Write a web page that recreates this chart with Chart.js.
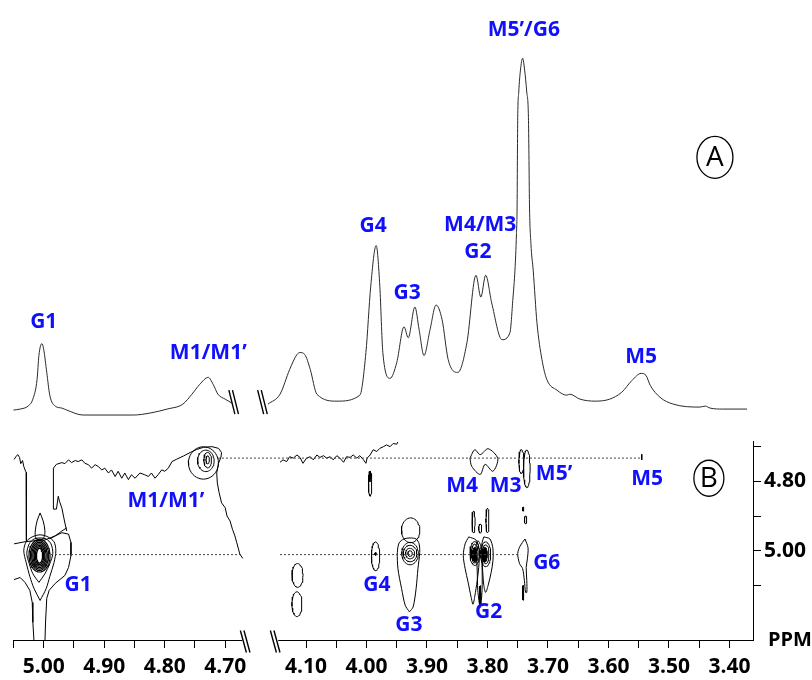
<!DOCTYPE html>
<html>
<head>
<meta charset="utf-8">
<title>1H NMR / TOCSY</title>
<script src="https://cdn.jsdelivr.net/npm/chart.js@4.4.1/dist/chart.umd.min.js"></script>
<style>
  html, body { margin: 0; padding: 0; background: #fff; }
  canvas { display: block; }
</style>
</head>
<body>
<canvas id="nmr" width="812" height="680"></canvas>
<script>
// ---- data: [ppm, intensity] for the 1D trace (A), [ppm F2, ppm F1] for the 2D map (B)

const spectrumLeft = [
  [5.050, 0], [5.039, 1], [5.026, 4], [5.018, 11], [5.011, 31], [5.008, 55], [5.003, 67],
  [5.000, 61], [4.995, 38], [4.990, 15], [4.981, 4], [4.970, 2], [4.962, 0], [4.935, -5],
  [4.907, -5], [4.852, -5], [4.824, -3], [4.796, 1], [4.770, 6], [4.755, 16], [4.742, 26],
  [4.728, 33], [4.720, 26], [4.712, 16], [4.700, 11], [4.689, 7],
];

const spectrumRight = [
  [4.163, 6], [4.143, 16], [4.127, 41], [4.115, 56], [4.110, 58], [4.102, 56], [4.093, 41],
  [4.082, 16], [4.049, 9], [4.011, 15], [4.001, 58], [3.993, 125], [3.984, 166], [3.978, 125],
  [3.973, 58], [3.961, 32], [3.950, 48], [3.938, 84], [3.931, 73], [3.920, 104], [3.913, 81],
  [3.905, 55], [3.895, 81], [3.885, 106], [3.875, 91], [3.865, 51], [3.849, 38], [3.834, 68],
  [3.819, 136], [3.811, 114], [3.803, 136], [3.793, 108], [3.776, 71], [3.7629, 78],
  [3.7579, 113], [3.7546, 141], [3.7521, 178], [3.7510, 208], [3.7505, 258], [3.7500, 295],
  [3.7483, 321], [3.7455, 343], [3.7419, 355], [3.7386, 343], [3.7351, 321], [3.7323, 295],
  [3.7315, 258], [3.7306, 208], [3.7282, 168], [3.7244, 141], [3.7182, 88], [3.710, 51],
  [3.702, 31], [3.685, 20], [3.669, 15], [3.664, 16], [3.647, 11], [3.622, 9], [3.598, 11],
  [3.578, 18], [3.561, 30], [3.546, 37], [3.538, 35], [3.531, 25], [3.515, 13], [3.493, 6],
  [3.449, 3], [3.440, 4], [3.432, 2], [3.411, 1], [3.371, 1],
];

const xTickValues = [5.05, 5.00, 4.95, 4.90, 4.85, 4.80, 4.75, 4.70,
  4.10, 4.05, 4.00, 3.95, 3.90, 3.85, 3.80, 3.75, 3.70, 3.65, 3.60, 3.55, 3.50, 3.45, 3.40];
const xTickLabels = ['', '5.00', '', '4.90', '', '4.80', '', '4.70',
  '4.10', '', '4.00', '', '3.90', '', '3.80', '', '3.70', '', '3.60', '', '3.50', '', '3.40'];
const yTickValues = [4.70, 4.80, 4.90, 5.00, 5.10];
const yTickLabels = ['', '4.80', '', '5.00', ''];

// contour levels as ellipses: [centre F2, centre F1, half width F2, half height F1]
const g1Rings = [
  [5.007, 5.014, 0.0050, 0.0214], [5.007, 5.014, 0.0069, 0.0257], [5.007, 5.014, 0.0089, 0.0300],
  [5.007, 5.014, 0.0109, 0.0343], [5.007, 5.014, 0.0129, 0.0386], [5.007, 5.014, 0.0149, 0.0429],
  [5.007, 5.014, 0.0174, 0.0471],
];
const m1Rings = [
  [4.729, 4.738, 0.0028, 0.0114], [4.729, 4.739, 0.0063, 0.0223],
  [4.732, 4.741, 0.0137, 0.0309], [4.736, 4.747, 0.0248, 0.0466],
];
const g3Rings = [
  [3.928, 5.008, 0.0137, 0.0323], [3.928, 5.008, 0.0111, 0.0237],
  [3.928, 5.008, 0.0074, 0.0151], [3.928, 5.008, 0.0036, 0.0080],
];
const g2Rings = [
  [3.821, 5.008, 0.0078, 0.0343], [3.821, 5.008, 0.0055, 0.0271],
  [3.803, 5.010, 0.0083, 0.0357], [3.803, 5.010, 0.0055, 0.0271],
];
const otherPeaks = [
  [3.985, 5.016, 0.0069, 0.0414], [3.994, 4.807, 0.0028, 0.0357], [3.927, 4.941, 0.0152, 0.0357],
  [3.823, 4.917, 0.0025, 0.0314], [3.812, 4.936, 0.0025, 0.0129], [3.800, 4.913, 0.0025, 0.0357],
  [3.744, 4.743, 0.0041, 0.0343], [3.735, 4.764, 0.0055, 0.0543], [3.737, 4.911, 0.0020, 0.0114],
  [4.114, 5.071, 0.0091, 0.0343], [4.115, 5.154, 0.0083, 0.0357],
];
const filledPeaks = [
  [3.985, 5.009, 0.0013, 0.0043], [3.994, 4.786, 0.0017, 0.0143],
  [3.821, 5.011, 0.0038, 0.0206], [3.804, 5.011, 0.0038, 0.0206],
  [3.812, 5.129, 0.0013, 0.0286], [3.741, 4.880, 0.0013, 0.0057], [3.741, 5.121, 0.0012, 0.0214],
];

// irregular contours, [F2, F1]
const g1Outer1 = [[5.008, 5.091], [5.018, 5.066], [5.024, 5.037], [5.028, 5.008], [5.024, 4.980],
  [5.016, 4.966], [5.006, 4.963], [4.996, 4.966], [4.988, 4.980], [4.985, 5.008], [4.990, 5.037],
  [4.998, 5.066], [5.008, 5.091]];
const g1Outer2 = [[5.006, 5.143], [5.016, 5.109], [5.023, 5.074], [5.029, 5.034], [5.033, 5.000],
  [5.029, 4.974], [5.019, 4.960], [5.006, 4.954], [4.993, 4.960], [4.983, 4.974], [4.980, 5.000],
  [4.983, 5.034], [4.990, 5.074], [4.996, 5.109], [5.006, 5.143]];
const g1Upper = [[5.006, 4.891], [5.011, 4.914], [5.014, 4.943], [5.013, 4.963], [5.006, 4.969],
  [5.000, 4.963], [4.998, 4.943], [5.001, 4.914], [5.006, 4.891]];
const g1Cross = [[5.049, 4.980], [5.031, 4.974], [5.014, 4.971], [4.998, 4.969], [4.981, 4.957],
  [4.970, 4.943], [4.962, 4.934]];
const g1RightArm = [[4.990, 4.966], [4.981, 4.957], [4.970, 4.948], [4.959, 4.952], [4.955, 4.976],
  [4.955, 5.014], [4.959, 5.048], [4.965, 5.071], [4.981, 5.094], [4.991, 5.114], [4.995, 5.137],
  [4.997, 5.205], [4.998, 5.262]];
const g1LeftArm = [[5.049, 5.083], [5.039, 5.077], [5.031, 5.091], [5.023, 5.114], [5.019, 5.149],
  [5.018, 5.206], [5.016, 5.263]];
const g3Outer = [[3.929, 5.176], [3.936, 5.157], [3.942, 5.109], [3.948, 5.052], [3.949, 5.005],
  [3.946, 4.977], [3.938, 4.966], [3.928, 4.963], [3.918, 4.966], [3.913, 4.980], [3.912, 5.005],
  [3.915, 5.052], [3.918, 5.109], [3.923, 5.162], [3.929, 5.176]];
const g2Left = [[3.831, 4.960], [3.837, 4.980], [3.840, 5.014], [3.837, 5.051], [3.832, 5.091],
  [3.827, 5.134], [3.824, 5.154], [3.821, 5.131], [3.817, 5.086], [3.814, 5.037], [3.814, 4.994],
  [3.819, 4.969], [3.831, 4.960]];
const g2Mid = [[3.819, 4.986], [3.817, 5.057], [3.816, 5.114], [3.812, 5.163], [3.809, 5.114],
  [3.809, 5.043], [3.811, 4.986], [3.816, 4.971], [3.819, 4.986]];
const g2Right = [[3.806, 4.960], [3.796, 4.966], [3.791, 4.994], [3.791, 5.029], [3.794, 5.063],
  [3.799, 5.100], [3.803, 5.120], [3.806, 5.100], [3.808, 5.057], [3.809, 5.014], [3.809, 4.977],
  [3.806, 4.960]];
const m4m3 = [[3.829, 4.733], [3.821, 4.709], [3.812, 4.723], [3.799, 4.706], [3.783, 4.734],
  [3.791, 4.771], [3.804, 4.751], [3.812, 4.780], [3.826, 4.757], [3.829, 4.733]];
const g6 = [[3.738, 4.966], [3.733, 4.991], [3.734, 5.023], [3.736, 5.048], [3.735, 5.086],
  [3.735, 5.120], [3.737, 5.120], [3.739, 5.086], [3.742, 5.051], [3.747, 5.037], [3.750, 5.008],
  [3.746, 4.986], [3.738, 4.966]];

// noisy projection traces across the top of the map
const traceLeft1 = [[5.049, 4.737], [5.046, 4.729], [5.043, 4.723], [5.040, 4.731], [5.038, 4.749],
  [5.035, 4.740], [5.033, 4.757], [5.030, 4.771], [5.029, 4.774], [5.029, 4.857], [5.029, 4.929],
  [5.028, 4.971]];
const traceLeft2 = [[4.962, 4.943], [4.965, 4.920], [4.970, 4.877], [4.974, 4.857], [4.976, 4.843],
  [4.979, 4.880], [4.984, 4.880], [4.984, 4.829], [4.984, 4.762], [4.979, 4.751], [4.970, 4.746],
  [4.965, 4.749], [4.959, 4.738], [4.954, 4.746], [4.948, 4.740], [4.943, 4.743], [4.937, 4.738],
  [4.932, 4.748], [4.926, 4.752], [4.921, 4.762], [4.915, 4.752], [4.910, 4.757], [4.904, 4.767],
  [4.899, 4.762], [4.893, 4.776], [4.888, 4.767], [4.882, 4.786], [4.877, 4.771], [4.871, 4.791],
  [4.866, 4.776], [4.860, 4.795], [4.855, 4.781], [4.849, 4.791], [4.841, 4.776], [4.833, 4.781],
  [4.827, 4.786], [4.822, 4.776], [4.816, 4.791], [4.811, 4.781], [4.805, 4.767], [4.800, 4.771],
  [4.794, 4.762], [4.788, 4.743], [4.780, 4.736], [4.769, 4.727], [4.758, 4.717], [4.747, 4.708],
  [4.736, 4.702], [4.722, 4.700], [4.711, 4.705], [4.706, 4.717], [4.707, 4.730], [4.711, 4.748],
  [4.714, 4.776], [4.713, 4.805], [4.710, 4.833], [4.706, 4.862], [4.700, 4.876], [4.697, 4.900],
  [4.692, 4.914], [4.688, 4.938], [4.684, 4.957], [4.681, 4.976], [4.678, 4.995], [4.676, 5.009],
  [4.671, 5.022]];
const traceRight = [[4.143, 4.745], [4.138, 4.738], [4.132, 4.743], [4.127, 4.729], [4.121, 4.733],
  [4.115, 4.724], [4.110, 4.731], [4.105, 4.748], [4.099, 4.733], [4.093, 4.729], [4.088, 4.738],
  [4.082, 4.724], [4.077, 4.731], [4.071, 4.726], [4.066, 4.733], [4.060, 4.729], [4.055, 4.738],
  [4.049, 4.726], [4.044, 4.733], [4.038, 4.745], [4.033, 4.729], [4.027, 4.731], [4.022, 4.724],
  [4.016, 4.733], [4.011, 4.726], [4.005, 4.738], [4.001, 4.748], [3.999, 4.733], [3.994, 4.724],
  [3.989, 4.709], [3.983, 4.714], [3.978, 4.705], [3.972, 4.700], [3.967, 4.695], [3.961, 4.700],
  [3.956, 4.691], [3.950, 4.693], [3.948, 4.686]];

// cross-peak guides (F1 of M1 and G1)
const crossLines = [
  [[4.712, 4.733], [3.545, 4.733]],
  [[4.988, 5.011], [4.672, 5.011]],
  [[4.143, 5.011], [3.746, 5.011]],
];
const m5Tick = [[3.545, 4.722], [3.545, 4.738]];

const spectrumLabels = [
  ['G1', 5.000, 89], ['M1/M1’', 4.728, 58], ['G4', 3.989, 186], ['G3', 3.933, 118],
  ['M4/M3', 3.812, 187], ['G2', 3.816, 159], ['M5’/G6', 3.740, 383], ['M5', 3.546, 54],
];
const mapLabels = [
  ['M1/M1’', 4.798, 4.857], ['G1', 4.943, 5.100], ['G4', 3.983, 5.100], ['G3', 3.930, 5.214],
  ['G2', 3.798, 5.177], ['M4', 3.842, 4.814], ['M3', 3.770, 4.814], ['M5’', 3.690, 4.780],
  ['M5', 3.536, 4.794], ['G6', 3.702, 5.034],
];

// broken ppm axis: 5.05-4.67 | 4.15-3.36
const axisSegments = [[5.05, 4.672], [4.146, 3.36]];
const axisBreaks = [4.667, 4.151];
const spectrumBreaks = [4.686, 4.172];

// ---- mapping of the broken axis onto one linear scale
const PX_PER_PPM = 604.9;
const LEFT_ZERO = 5.0475;
const RIGHT_ZERO = 4.5811;
const SPLIT = 4.4;

function xv(ppm) {
  return ((ppm > SPLIT ? LEFT_ZERO : RIGHT_ZERO) - ppm) * PX_PER_PPM;
}

const toPoints = (rows) => rows.map(([ppm, y]) => ({ x: xv(ppm), y }));

function ellipsePoints([cx, cy, rx, ry]) {
  const pts = [];
  for (let i = 0; i <= 40; i++) {
    const a = (i / 40) * Math.PI * 2;
    pts.push({ x: xv(cx + rx * Math.cos(a)), y: cy + ry * Math.sin(a) });
  }
  return pts;
}

const BLUE = '#1010ff';

const spectrum = (rows) => ({
  data: toPoints(rows), yAxisID: 'yA', showLine: true, borderColor: '#2a2a2a',
  borderWidth: 1, pointRadius: 0, cubicInterpolationMode: 'monotone',
});
const contour = (points, extra) => Object.assign({
  data: points, yAxisID: 'yB', showLine: true, borderColor: '#000',
  borderWidth: 1, pointRadius: 0, tension: 0,
}, extra);

const datasets = [spectrum(spectrumLeft), spectrum(spectrumRight)];

crossLines.forEach((l) => datasets.push(contour(toPoints(l), { borderColor: '#444', borderDash: [2, 2] })));
datasets.push(contour(toPoints(m5Tick)));

[traceLeft1, traceLeft2, traceRight, g1Cross, g1RightArm, g1LeftArm]
  .forEach((t) => datasets.push(contour(toPoints(t))));
[g1Outer1, g1Outer2, g1Upper, g3Outer, g2Left, g2Mid, g2Right, m4m3, g6]
  .forEach((p) => datasets.push(contour(toPoints(p), { tension: 0.3 })));
g1Rings.forEach((e) => datasets.push(contour(ellipsePoints(e), { borderWidth: 1.2 })));
[...m1Rings, ...g3Rings, ...g2Rings, ...otherPeaks]
  .forEach((e) => datasets.push(contour(ellipsePoints(e))));
filledPeaks.forEach((e) => datasets.push(contour(ellipsePoints(e), { fill: 'shape', backgroundColor: '#000' })));

// ---- labels, panel marks, broken axis line
const decorations = {
  id: 'decorations',
  afterDraw(chart) {
    const { ctx, chartArea } = chart;
    const { x, yA, yB } = chart.scales;
    const px = (ppm) => x.getPixelForValue(xv(ppm));
    ctx.save();

    ctx.strokeStyle = '#000';
    ctx.lineWidth = 1;
    const axisY = Math.round(chartArea.bottom) + 0.5;
    ctx.beginPath();
    ctx.moveTo(px(axisSegments[0][0]), axisY);
    ctx.lineTo(px(axisSegments[0][1]), axisY);
    ctx.moveTo(px(axisSegments[1][0]), axisY);
    ctx.lineTo(chartArea.right, axisY);
    ctx.stroke();

    const breakMark = (cx, cy, h) => {
      for (const d of [-1.8, 1.8]) {
        ctx.moveTo(cx + d - 3, cy - h / 2);
        ctx.lineTo(cx + d + 3, cy + h / 2);
      }
    };
    ctx.lineWidth = 1.4;
    ctx.beginPath();
    axisBreaks.forEach((p) => breakMark(px(p), axisY + 1, 22));
    spectrumBreaks.forEach((p) => breakMark(px(p), yA.getPixelForValue(8), 24));
    ctx.stroke();

    ctx.fillStyle = BLUE;
    ctx.font = 'bold 21px "Open Sans", sans-serif';
    ctx.textAlign = 'center';
    ctx.textBaseline = 'middle';
    spectrumLabels.forEach(([t, p, v]) => ctx.fillText(t, px(p), yA.getPixelForValue(v)));
    mapLabels.forEach(([t, p, v]) => ctx.fillText(t, px(p), yB.getPixelForValue(v)));

    const mark = (letter, cx, cy, rx, ry) => {
      ctx.beginPath();
      ctx.ellipse(cx, cy, rx, ry, 0, 0, Math.PI * 2);
      ctx.lineWidth = 1.3;
      ctx.stroke();
      ctx.fillStyle = '#000';
      ctx.font = '28px "Open Sans", sans-serif';
      ctx.fillText(letter, cx, cy + 1);
    };
    mark('A', px(3.424), yA.getPixelForValue(255), 18, 21);
    mark('B', px(3.434), yB.getPixelForValue(4.791), 15, 18);

    ctx.fillStyle = '#000';
    ctx.font = 'bold 20px "Open Sans", sans-serif';
    ctx.textAlign = 'left';
    ctx.fillText('PPM', chartArea.right + 15, axisY);
    ctx.restore();
  },
};

const tickFont = { family: '"Open Sans", sans-serif', size: 21, weight: 'bold' };

new Chart(document.getElementById('nmr'), {
  type: 'scatter',
  data: { datasets },
  options: {
    responsive: false,
    animation: false,
    devicePixelRatio: 1,
    events: [],
    layout: { padding: { left: 13, top: 10, right: 0, bottom: 0 } },
    plugins: { legend: { display: false }, tooltip: { enabled: false } },
    scales: {
      x: {
        type: 'linear',
        position: 'bottom',
        min: -2,
        max: 738,
        afterFit: (s) => { s.height = 40; },
        afterBuildTicks: (s) => { s.ticks = xTickValues.map((p) => ({ value: xv(p) })); },
        ticks: {
          autoSkip: false, maxRotation: 0, padding: 6, color: '#000', font: tickFont,
          callback: (v, i) => xTickLabels[i],
        },
        grid: { drawOnChartArea: false, tickLength: 8, color: '#000' },
        border: { display: false },
      },
      yA: {
        type: 'linear', position: 'right', stack: 'panels', stackWeight: 430,
        min: -32, max: 398, display: false,
      },
      yB: {
        type: 'linear', position: 'right', stack: 'panels', stackWeight: 200,
        reverse: true, min: 4.686, max: 5.257,
        afterFit: (s) => { s.width = 59; },
        afterBuildTicks: (s) => { s.ticks = yTickValues.map((v) => ({ value: v })); },
        ticks: {
          autoSkip: false, padding: 3, color: '#000', font: tickFont,
          callback: (v, i) => yTickLabels[i],
        },
        grid: { drawOnChartArea: false, tickLength: 8, color: '#000' },
        border: { display: true, color: '#000', width: 1 },
      },
    },
  },
  plugins: [decorations],
});
</script>
</body>
</html>
